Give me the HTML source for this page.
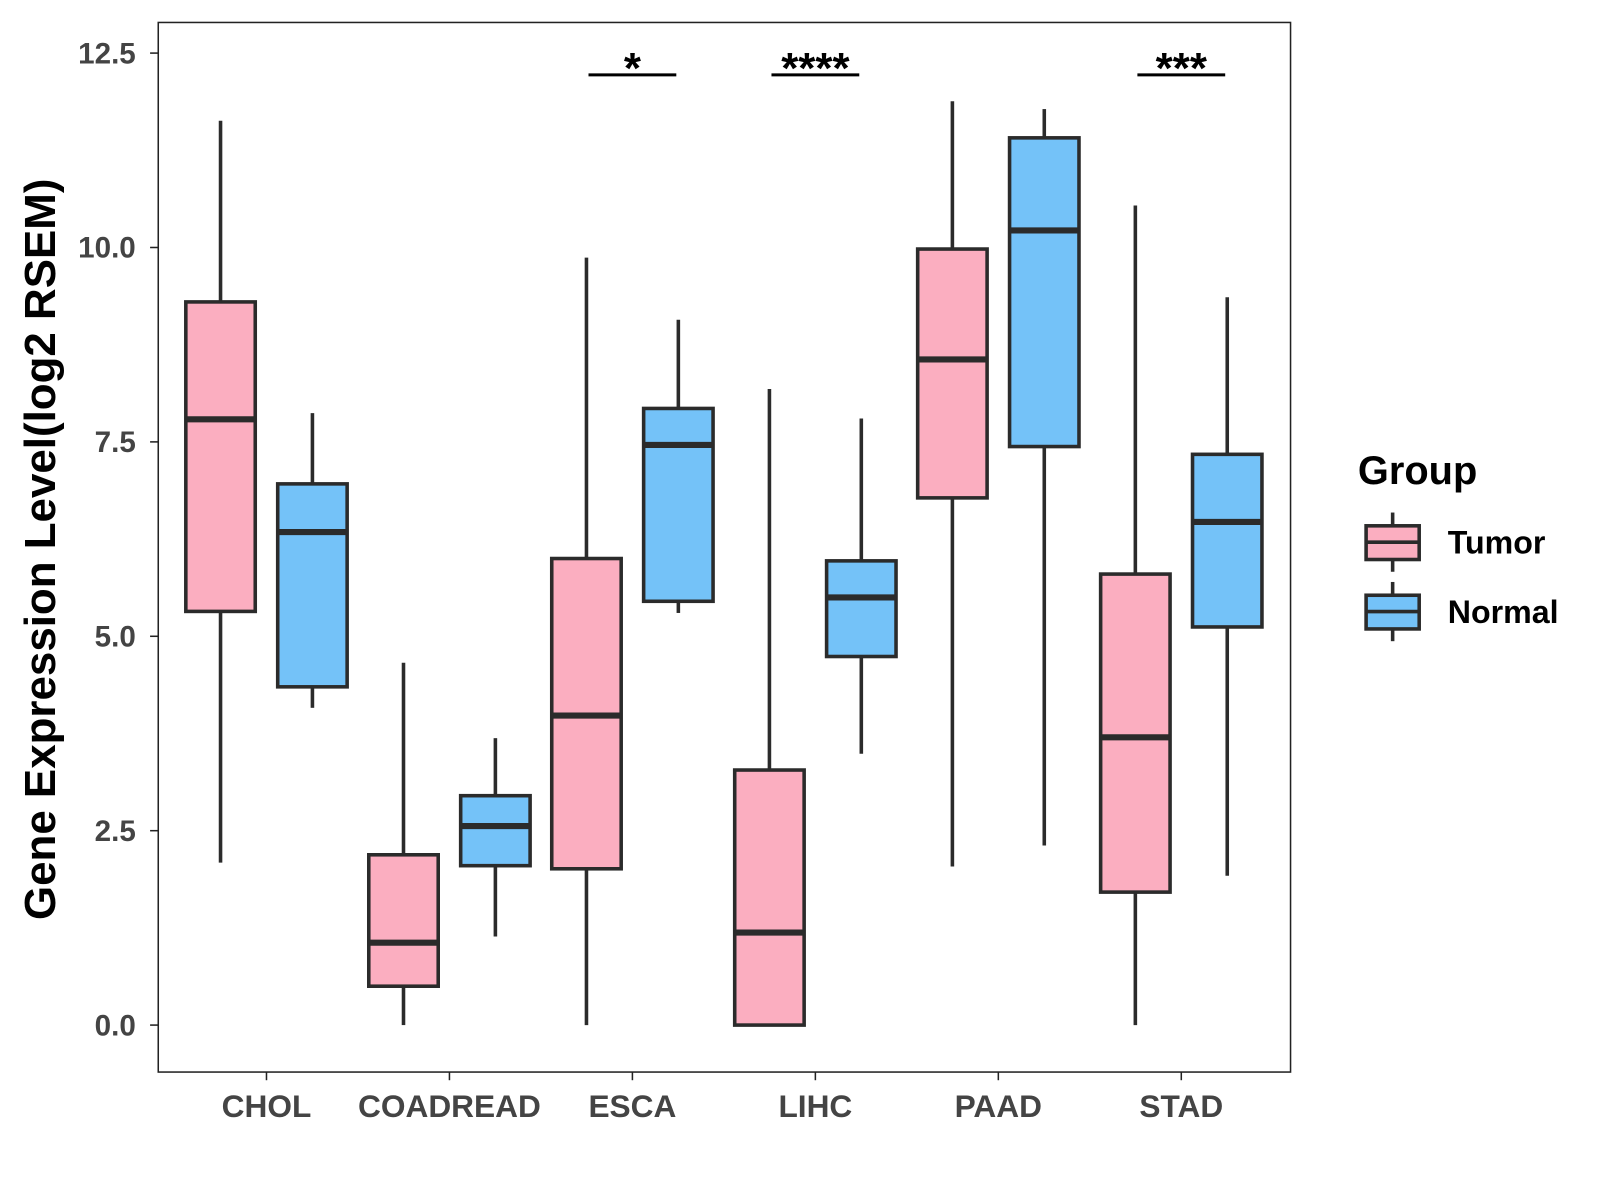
<!DOCTYPE html>
<html><head><meta charset="utf-8"><style>
html,body{margin:0;padding:0;background:#fff;width:1600px;height:1200px;overflow:hidden}
text{font-family:"Liberation Sans",Arial,sans-serif;font-weight:bold}
</style></head><body>
<svg id="chart" width="1600" height="1200" xmlns="http://www.w3.org/2000/svg">
<rect x="0" y="0" width="1600" height="1200" fill="#fff"/>
<g transform="scale(1.021)">
<rect x="155" y="22" width="1109" height="1028" fill="#fff" stroke="#222" stroke-width="1.5"/>
<g id="yaxis"></g>
<g id="xaxis"></g>
<g id="boxes"></g>
<g id="sig"></g>
<text transform="translate(54,538) rotate(-90)" text-anchor="middle" font-size="43" fill="#000">Gene Expression Level(log2 RSEM)</text>
<g>
<text x="1330" y="474" font-size="39" fill="#000">Group</text>
<g>
<line x1="1364" y1="502" x2="1364" y2="560" stroke="#2b2b2b" stroke-width="3.5"/>
<rect x="1338" y="515" width="52" height="33" fill="#FBAEC0" stroke="#2b2b2b" stroke-width="3.5"/>
<line x1="1338" y1="531" x2="1390" y2="531" stroke="#2b2b2b" stroke-width="3.5"/>
<text x="1418" y="542" font-size="31.5" fill="#000">Tumor</text></g>
<g>
<line x1="1364" y1="570" x2="1364" y2="628" stroke="#2b2b2b" stroke-width="3.5"/>
<rect x="1338" y="583" width="52" height="33" fill="#74C2F8" stroke="#2b2b2b" stroke-width="3.5"/>
<line x1="1338" y1="599" x2="1390" y2="599" stroke="#2b2b2b" stroke-width="3.5"/>
<text x="1418" y="610" font-size="31.5" fill="#000">Normal</text></g>
</g>
</g>
</svg>
<script>
const categories=["CHOL","COADREAD","ESCA","LIHC","PAAD","STAD"];
const tumorLow=[2.09,0,0,0,2.04,0];
const tumorQ1=[5.32,0.50,2.01,0,6.78,1.71];
const tumorMed=[7.79,1.06,3.98,1.19,8.56,3.70];
const tumorQ3=[9.30,2.19,6.00,3.28,9.98,5.80];
const tumorHigh=[11.63,4.66,9.87,8.18,11.88,10.54];
const normalLow=[4.08,1.14,5.30,3.49,2.31,1.92];
const normalQ1=[4.35,2.05,5.45,4.74,7.44,5.12];
const normalMed=[6.34,2.56,7.46,5.50,10.22,6.47];
const normalQ3=[6.96,2.95,7.93,5.97,11.41,7.34];
const normalHigh=[7.87,3.69,9.07,7.80,11.78,9.36];
const yTicks=[0,2.5,5,7.5,10,12.5];
const yTickLabels=["0.0","2.5","5.0","7.5","10.0","12.5"];
const sigCats=["ESCA","LIHC","STAD"];
const sigLabels=["*","****","***"];
const sigLevel=12.22;

const NS="http://www.w3.org/2000/svg";
const y=v=>1004-v*76.16;
const x=i=>261+i*179.2;
function mk(parent,tag,attrs){const e=document.createElementNS(NS,tag);for(const k in attrs)e.setAttribute(k,attrs[k]);parent.appendChild(e);return e;}
const ya=document.getElementById('yaxis');
yTicks.forEach((t,i)=>{
  const l=mk(ya,'line',{x1:147,x2:155,y1:y(t),y2:y(t),stroke:'#222','stroke-width':1.5});
  
  
  const tx=mk(ya,'text',{x:133,y:y(t)+10,'text-anchor':'end','font-size':29,fill:'#444'});
  
  
  tx.textContent=yTickLabels[i];
});
const xa=document.getElementById('xaxis');
categories.forEach((c,i)=>{
  const l=mk(xa,'line',{x1:x(i),x2:x(i),y1:1050,y2:1058,stroke:'#222','stroke-width':1.5});
  
  
  const tx=mk(xa,'text',{x:x(i),y:1094,'text-anchor':'middle','font-size':31,fill:'#444'});
  
  
  tx.textContent=c;
});
const bg=document.getElementById('boxes');
function box(cx,lo,q1,md,q3,hi,fill,name){
  const g=mk(bg,'g',{});
  
  
  const s='#2b2b2b';
  mk(g,'line',{x1:cx,x2:cx,y1:y(hi),y2:y(q3),stroke:s,'stroke-width':3.5});
  mk(g,'line',{x1:cx,x2:cx,y1:y(q1),y2:y(lo),stroke:s,'stroke-width':3.5});
  mk(g,'rect',{x:cx-34,y:y(q3),width:68,height:y(q1)-y(q3),fill:fill,stroke:s,'stroke-width':3.5});
  mk(g,'line',{x1:cx-34,x2:cx+34,y1:y(md),y2:y(md),stroke:s,'stroke-width':6});
}
categories.forEach((c,i)=>{
  box(x(i)-45,tumorLow[i],tumorQ1[i],tumorMed[i],tumorQ3[i],tumorHigh[i],'#FBAEC0','box-tumor-'+c.toLowerCase());
  box(x(i)+45,normalLow[i],normalQ1[i],normalMed[i],normalQ3[i],normalHigh[i],'#74C2F8','box-normal-'+c.toLowerCase());
});
const sg=document.getElementById('sig');
sigCats.forEach((c,k)=>{
  const i=categories.indexOf(c);
  const l=mk(sg,'line',{x1:x(i)-43,x2:x(i)+43,y1:y(sigLevel),y2:y(sigLevel),stroke:'#000','stroke-width':3});
  
  
  const t=mk(sg,'text',{x:x(i),y:y(sigLevel)+8,'text-anchor':'middle','font-size':43,fill:'#000'});
  
  
  t.textContent=sigLabels[k];
});
</script>
</body></html>
